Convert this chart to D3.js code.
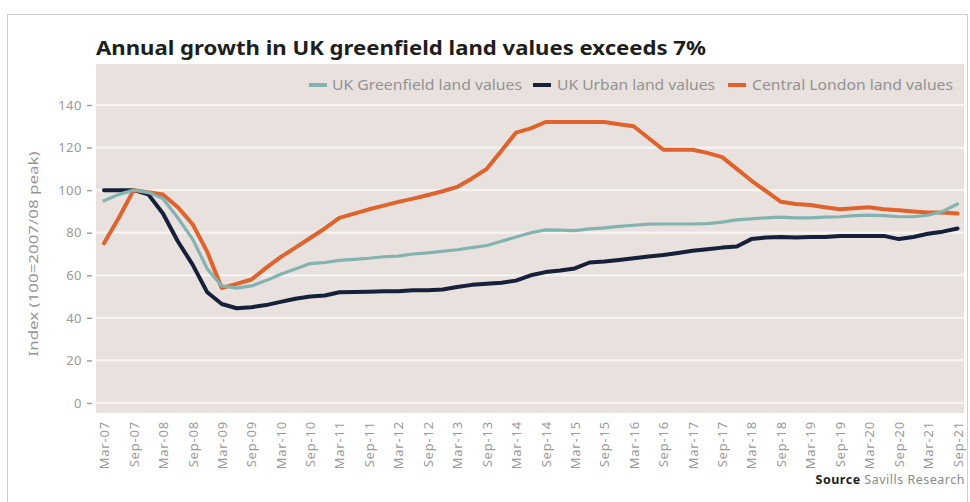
<!DOCTYPE html>
<html>
<head>
<meta charset="utf-8">
<script src="https://cdn.jsdelivr.net/npm/d3@7/dist/d3.min.js"></script>
<style>
  html, body { margin: 0; padding: 0; background: #ffffff; }
  svg { display: block; }
  text { font-family: "Noto Sans", "Open Sans", sans-serif; }
</style>
</head>
<body>
<svg id="chart" width="970" height="502"></svg>
<script>
// Quarterly index values (100 = 2007/08 peak), Mar-07 through Sep-21
const greenfield = [
  95, 98, 100, 99, 96, 87, 77, 63, 55, 54, 55, 57.5, 60.5, 63, 65.5, 66,
  67, 67.5, 68, 68.7, 69, 70, 70.5, 71.3, 72, 73, 74, 76, 78, 80, 81.3,
  81.2, 81, 81.8, 82.3, 83, 83.5, 84, 84.1, 84.1, 84.1, 84.3, 85, 86, 86.5, 87, 87.3,
  87, 87, 87.3, 87.5, 88, 88.3, 88, 87.5, 87.5, 88.2, 90, 93.5
];
const urban = [
  100, 100, 100, 98, 89, 76, 65, 52, 46.5, 44.5, 45, 46, 47.5, 49, 50, 50.5,
  52, 52.2, 52.3, 52.5, 52.5, 53, 53, 53.3, 54.5, 55.5, 56, 56.5, 57.5, 60, 61.5,
  62.2, 63.2, 66, 66.5, 67.2, 68, 68.8, 69.5, 70.5, 71.5, 72.2, 73, 73.5, 77, 77.8, 78,
  77.8, 78, 78, 78.5, 78.5, 78.5, 78.5, 77, 78, 79.5, 80.5, 82
];
const centralLondon = [
  75, 87, 100, 99, 98, 92, 84, 71, 54, 56, 58, 63.5, 68.5, 73, 77.5, 82,
  87, 89, 91, 92.7, 94.5, 96, 97.7, 99.5, 101.5, 105.5, 110, 118.5, 127, 129, 132,
  132, 132, 132, 132, 131, 130, 124.5, 119, 119, 119, 117.5, 115.5, 110, 104.5, 99.5, 94.5,
  93.5, 93, 92, 91, 91.5, 92, 91, 90.5, 90, 89.5, 89.5, 89
];
const tickLabels = [
  "Mar-07", "Sep-07", "Mar-08", "Sep-08", "Mar-09", "Sep-09", "Mar-10", "Sep-10",
  "Mar-11", "Sep-11", "Mar-12", "Sep-12", "Mar-13", "Sep-13", "Mar-14", "Sep-14",
  "Mar-15", "Sep-15", "Mar-16", "Sep-16", "Mar-17", "Sep-17", "Mar-18", "Sep-18",
  "Mar-19", "Sep-19", "Mar-20", "Sep-20", "Mar-21", "Sep-21"
];
const yTicks = [0, 20, 40, 60, 80, 100, 120, 140];
const seriesNames = ["UK Greenfield land values", "UK Urban land values", "Central London land values"];
const seriesColors = ["#82b3b0", "#17203a", "#e0622c"];

// Quarter-end months from Mar-07 to Sep-21, stepping three months from the start
const parse = d3.timeParse("%b-%y");
const start = parse("Mar-07"), end = parse("Sep-21");
const quarters = d3.timeMonth.range(start, d3.timeMonth.offset(end, 1), 3);
const tickDates = tickLabels.map(parse);

const svg = d3.select("#chart");

// Outer frame
svg.append("rect")
  .attr("x", 7.5).attr("y", 14.5).attr("width", 960).attr("height", 520)
  .attr("fill", "none").attr("stroke", "#cfcfcf").attr("stroke-width", 1);

// Title
svg.append("text")
  .attr("x", 96).attr("y", 55)
  .attr("font-size", 19.5).attr("font-weight", 700).attr("fill", "#1e1e1e")
  .attr("textLength", 610).attr("lengthAdjust", "spacingAndGlyphs")
  .text("Annual growth in UK greenfield land values exceeds 7%");

const panel = { left: 96, right: 964, top: 64, bottom: 413 };

const x = d3.scaleTime().domain([start, end]).range([104, 957.5]);
const y = d3.scaleLinear().domain([0, 140]).range([403, 105]);

// Plot panel
svg.append("rect")
  .attr("x", panel.left).attr("y", panel.top)
  .attr("width", panel.right - panel.left).attr("height", panel.bottom - panel.top)
  .attr("fill", "#e8e1dd");

// Gridlines
svg.append("g").selectAll("line").data(yTicks).join("line")
  .attr("x1", panel.left).attr("x2", panel.right)
  .attr("y1", d => y(d)).attr("y2", d => y(d))
  .attr("stroke", "#f8f4f2").attr("stroke-width", 2.2);

// Y axis
const yAxis = svg.append("g")
  .attr("transform", `translate(${panel.left - 4},0)`)
  .call(d3.axisLeft(y).tickValues(yTicks).tickSize(5).tickPadding(5));
yAxis.select(".domain").remove();
yAxis.selectAll(".tick line").attr("stroke", "#9a9a9a").attr("stroke-width", 1.4);
yAxis.selectAll(".tick text")
  .attr("font-size", 13).attr("fill", "#9a9a9a")
  .style("letter-spacing", "0.5px")
  .style("font-family", "'Noto Sans', sans-serif");

svg.append("text")
  .attr("transform", "translate(38,254) rotate(-90)")
  .attr("text-anchor", "middle")
  .attr("font-size", 13).attr("fill", "#959595")
  .attr("textLength", 205).attr("lengthAdjust", "spacingAndGlyphs")
  .text("Index (100=2007/08 peak)");

// X axis labels (rotated)
const xAxis = svg.append("g")
  .attr("transform", `translate(0,${panel.bottom})`)
  .call(d3.axisBottom(x).tickValues(tickDates).tickFormat((d, i) => tickLabels[i]).tickSize(0).tickPadding(0));
xAxis.select(".domain").remove();
xAxis.selectAll(".tick text")
  .attr("transform", "translate(0,8) rotate(-90)")
  .attr("text-anchor", "end")
  .attr("dx", 0).attr("dy", "0.35em").attr("y", 0).attr("x", 0)
  .attr("font-size", 13).attr("fill", "#9a9a9a")
  .style("letter-spacing", "0.8px")
  .style("font-family", "'Noto Sans', sans-serif");

// Lines
const line = d3.line()
  .x((d, i) => x(quarters[i]))
  .y(d => y(d));

const allSeries = [urban, centralLondon, greenfield];
const colorsByDraw = [seriesColors[1], seriesColors[2], seriesColors[0]];
const widths = [4, 4, 3.2];
svg.append("g").selectAll("path").data(allSeries).join("path")
  .attr("d", d => line(d))
  .attr("fill", "none")
  .attr("stroke", (d, i) => colorsByDraw[i])
  .attr("stroke-width", (d, i) => widths[i])
  .attr("stroke-linejoin", "round")
  .attr("stroke-linecap", "round");

// Legend
const legendItems = [
  { sx: 309, tx: 332, w: 190 },
  { sx: 533, tx: 557, w: 158 },
  { sx: 728, tx: 752, w: 201 }
];
const legend = svg.append("g");
legendItems.forEach((it, i) => {
  legend.append("line")
    .attr("x1", it.sx).attr("x2", it.sx + 18)
    .attr("y1", 85).attr("y2", 85)
    .attr("stroke", seriesColors[i]).attr("stroke-width", 4);
  legend.append("text")
    .attr("x", it.tx).attr("y", 90)
    .attr("font-size", 13.5).attr("fill", "#939393")
    .attr("textLength", it.w).attr("lengthAdjust", "spacingAndGlyphs")
    .text(seriesNames[i]);
});

// Source note
const src = svg.append("text")
  .attr("x", 965).attr("y", 484)
  .attr("text-anchor", "end")
  .attr("font-size", 12.5).attr("fill", "#8a8a8a")
  .style("letter-spacing", "0.5px");
src.append("tspan").attr("font-weight", 700).attr("fill", "#222").text("Source");
src.append("tspan").text(" Savills Research");
</script>
</body>
</html>
